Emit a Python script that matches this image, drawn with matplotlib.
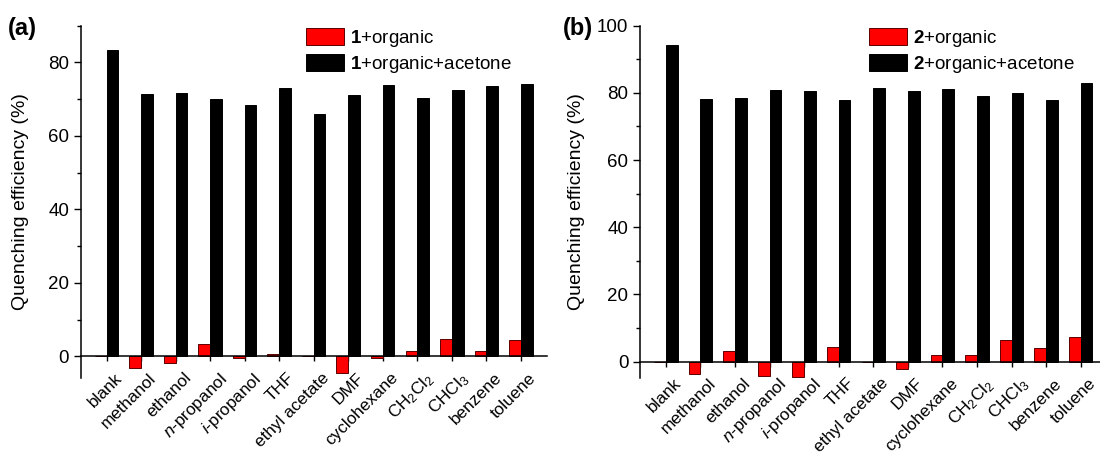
import matplotlib
matplotlib.use("Agg")
import matplotlib.pyplot as plt
from matplotlib.patches import Patch
from matplotlib.ticker import MultipleLocator, NullFormatter
import numpy as np

plt.rcParams['font.family'] = ['Liberation Sans', 'DejaVu Sans']
plt.rcParams['mathtext.fontset'] = 'custom'
plt.rcParams['mathtext.rm'] = 'Liberation Sans'
plt.rcParams['mathtext.it'] = 'Liberation Sans:italic'
plt.rcParams['mathtext.bf'] = 'Liberation Sans:bold'

categories = ['blank', 'methanol', 'ethanol', r'$\mathit{n}$-propanol', r'$\mathit{i}$-propanol',
              'THF', 'ethyl acetate', 'DMF', 'cyclohexane', r'CH$_2$Cl$_2$', r'CHCl$_3$',
              'benzene', 'toluene']

a_organic = [0.0, -3.1, -1.7, 3.3, -0.4, 0.6, 0.1, -4.6, -0.45, 1.3, 4.8, 1.55, 4.4]
a_acetone = [83.3, 71.3, 71.7, 70.1, 68.3, 73.1, 65.9, 71.1, 73.9, 70.4, 72.6, 73.6, 74.1]

b_organic = [0.0, -3.7, 3.1, -4.3, -4.7, 4.3, -0.2, -2.2, 1.8, 2.0, 6.45, 4.1, 7.4]
b_acetone = [94.2, 78.2, 78.6, 80.9, 80.6, 77.9, 81.4, 80.6, 81.1, 79.2, 79.9, 77.9, 82.9]

legend_a = [r'$\mathbf{1}$+organic', r'$\mathbf{1}$+organic+acetone']
legend_b = [r'$\mathbf{2}$+organic', r'$\mathbf{2}$+organic+acetone']

W, H = 1100, 453
fig = plt.figure(figsize=(11, 4.53), dpi=100)

def fx(px):
    return px / W

def fy(py):
    return 1 - py / H

def panel(left_px, right_px, organic, acetone, ylim, yticks, labels, leg_x, letter, letter_x, ylabel_x):
    ax = fig.add_axes([fx(left_px), fy(378.3), fx(right_px - left_px), (378.3 - 25.7) / H])
    x = np.arange(len(categories))
    w = 0.34
    ax.bar(x - w / 2, organic, w, color='#ff0000', edgecolor='#5a0000', linewidth=0.7, zorder=2)
    ax.bar(x + w / 2, acetone, w, color='black', edgecolor='black', linewidth=0.7, zorder=2)
    ax.set_xlim(-0.75, 12.75)
    ax.set_ylim(*ylim)
    for s in ['top', 'right']:
        ax.spines[s].set_visible(False)
    ax.spines['bottom'].set_position(('data', 0))
    ax.spines['bottom'].set_linewidth(1.1)
    ax.spines['left'].set_linewidth(1.1)
    ax.spines['bottom'].set_zorder(3)
    ax.set_yticks(yticks)
    ax.yaxis.set_minor_locator(MultipleLocator(10))
    ax.yaxis.set_minor_formatter(NullFormatter())
    ax.tick_params(axis='y', which='major', direction='out', length=4.8, width=1.0,
                   labelsize=13.5, pad=3.5)
    ax.tick_params(axis='y', which='minor', direction='out', length=3, width=1.0)
    # tick marks at the categories, labels slightly shifted to the right (rotated)
    ax.set_xticks(x)
    ax.set_xticklabels([''] * len(x))
    ax.set_xticks(x + 0.22, minor=True)
    ax.set_xticklabels(categories, minor=True, rotation=45, ha='right', va='top',
                       rotation_mode='anchor')
    ax.tick_params(axis='x', which='major', direction='out', length=3.4, width=1.0)
    ax.tick_params(axis='x', which='minor', length=0, labelsize=12.3, pad=10)
    ax.set_ylabel('Quenching efficiency (%)', fontsize=14)
    ax.yaxis.set_label_coords(fx(ylabel_x - left_px) / fx(right_px - left_px), 0.5)
    handles = [Patch(facecolor='#ff0000', edgecolor='#5a0000', linewidth=0.7),
               Patch(facecolor='black', edgecolor='black', linewidth=0.7)]
    fig.legend(handles, labels, loc='upper left', bbox_to_anchor=(fx(leg_x), fy(28)),
               frameon=False, fontsize=13.5, borderpad=0, borderaxespad=0,
               handlelength=2.05, handleheight=1.0, handletextpad=0.3, labelspacing=0.25)
    fig.text(fx(letter_x), fy(29), letter, fontsize=17, fontweight='bold', va='center', ha='left')
    return ax

panel(80.7, 546.7, a_organic, a_acetone, (-6, 90), [0, 20, 40, 60, 80], legend_a, 306, '(a)', 8, 29)
panel(640, 1106.6, b_organic, b_acetone, (-5, 100), [0, 20, 40, 60, 80, 100], legend_b, 869, '(b)', 563, 585)

fig.savefig('out.png', dpi=100)
